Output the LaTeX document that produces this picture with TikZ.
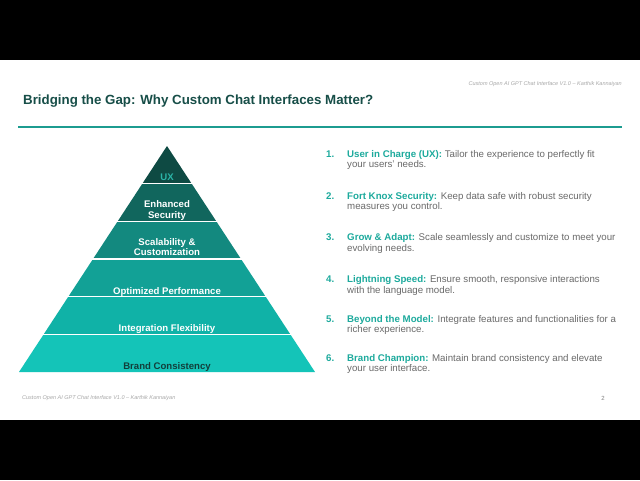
\documentclass[tikz,border=0pt]{standalone}
\usepackage{fontspec}
\setmainfont{Liberation Sans}
\definecolor{lay1}{HTML}{0E4A43}
\definecolor{lay2}{HTML}{11665D}
\definecolor{lay3}{HTML}{13897F}
\definecolor{lay4}{HTML}{12A196}
\definecolor{lay5}{HTML}{10B2A7}
\definecolor{lay6}{HTML}{14C4B8}
\definecolor{uxtext}{HTML}{2BB5A8}
\definecolor{basetext}{HTML}{123F3B}
\definecolor{titlecol}{HTML}{174E48}
\definecolor{rulecol}{HTML}{1C9C90}
\definecolor{headcol}{HTML}{1DAA9D}
\definecolor{bodycol}{HTML}{6A6A6A}
\definecolor{notecol}{HTML}{A8A8A8}
\tikzset{
  layerlabel/.style={font=\fontsize{9.6}{11}\selectfont\bfseries, text=white, inner sep=0pt, anchor=base},
  numlabel/.style={font=\fontsize{9.7}{11}\selectfont\bfseries, text=headcol, inner sep=0pt, anchor=base west},
  itemline/.style={font=\fontsize{9.7}{11}\selectfont, text=bodycol, inner sep=0pt, anchor=base west},
  note/.style={font=\fontsize{5.5}{6}\selectfont\itshape, text=notecol, inner sep=0pt},
  sep/.style={white, line width=1.3pt}
}
\newcommand{\hd}[1]{\textbf{\color{headcol}#1}}
\begin{document}
\begin{tikzpicture}[x=1pt,y=-1pt]
% page and slide
\fill[black] (0,0) rectangle (640,480);
\fill[white] (0,60) rectangle (640,420);
\useasboundingbox (0,0) rectangle (640,480);

% header
\node[note, anchor=base east] (hdr) at (622,85) {Custom Open AI GPT Chat Interface V1.0 -- Karthik Kannaiyan};
\node[font=\fontsize{13.3}{16}\selectfont\bfseries, text=titlecol, inner sep=0pt, anchor=base west] (title) at (23,104) {Bridging the Gap: Why Custom Chat Interfaces Matter?};
\draw[rulecol, line width=2.2pt] (18,127) -- (622,127);

% pyramid: apex (167,146), base 372, half width 148, six equal layers
\fill[lay1] (167,146) -- (191.67,183.67) -- (142.33,183.67) -- cycle;
\fill[lay2] (142.33,183.67) -- (191.67,183.67) -- (216.33,221.33) -- (117.67,221.33) -- cycle;
\fill[lay3] (117.67,221.33) -- (216.33,221.33) -- (241,259) -- (93,259) -- cycle;
\fill[lay4] (93,259) -- (241,259) -- (265.67,296.67) -- (68.33,296.67) -- cycle;
\fill[lay5] (68.33,296.67) -- (265.67,296.67) -- (290.33,334.33) -- (43.67,334.33) -- cycle;
\fill[lay6] (43.67,334.33) -- (290.33,334.33) -- (315,372) -- (19,372) -- cycle;
\foreach \yy/\hw in {183.67/24.67, 221.33/49.33, 259/74, 296.67/98.67, 334.33/123.33}
  \draw[sep] (167-\hw-1,\yy) -- (167+\hw+1,\yy);

\node[layerlabel, text=uxtext] (ux) at (167,180) {UX};
\node[layerlabel] (sec1) at (167,207.5) {Enhanced};
\node[layerlabel] (sec2) at (167,218) {Security};
\node[layerlabel] (sca1) at (167,245) {Scalability \&};
\node[layerlabel] (sca2) at (167,255.7) {Customization};
\node[layerlabel] (perf) at (167,294) {Optimized Performance};
\node[layerlabel] (integ) at (167,331.5) {Integration Flexibility};
\node[layerlabel, text=basetext] (brand) at (167,369.3) {Brand Consistency};

% numbered list
\node[numlabel] (n1) at (326,157) {1.};
\node[itemline] (t1a) at (347,157) {\hd{User in Charge (UX):} Tailor the experience to perfectly fit};
\node[itemline] (t1b) at (347,167.5) {your users' needs.};
\node[numlabel] (n2) at (326,199) {2.};
\node[itemline] (t2a) at (347,199) {\hd{Fort Knox Security:} Keep data safe with robust security};
\node[itemline] (t2b) at (347,209.7) {measures you control.};
\node[numlabel] (n3) at (326,240.7) {3.};
\node[itemline] (t3a) at (347,240.7) {\hd{Grow \& Adapt:} Scale seamlessly and customize to meet your};
\node[itemline] (t3b) at (347,251.5) {evolving needs.};
\node[numlabel] (n4) at (326,282.7) {4.};
\node[itemline] (t4a) at (347,282.7) {\hd{Lightning Speed:} Ensure smooth, responsive interactions};
\node[itemline] (t4b) at (347,293.3) {with the language model.};
\node[numlabel] (n5) at (326,322.3) {5.};
\node[itemline] (t5a) at (347,322.3) {\hd{Beyond the Model:} Integrate features and functionalities for a};
\node[itemline] (t5b) at (347,332.8) {richer experience.};
\node[numlabel] (n6) at (326,361) {6.};
\node[itemline] (t6a) at (347,361) {\hd{Brand Champion:} Maintain brand consistency and elevate};
\node[itemline] (t6b) at (347,371.7) {your user interface.};

% footer
\node[note, anchor=base west] (ftr) at (22,399) {Custom Open AI GPT Chat Interface V1.0 -- Karthik Kannaiyan};
\node[font=\fontsize{6}{7}\selectfont, text=gray, inner sep=0pt, anchor=base] (pg) at (603,400.5) {2};
\end{tikzpicture}
\end{document}
